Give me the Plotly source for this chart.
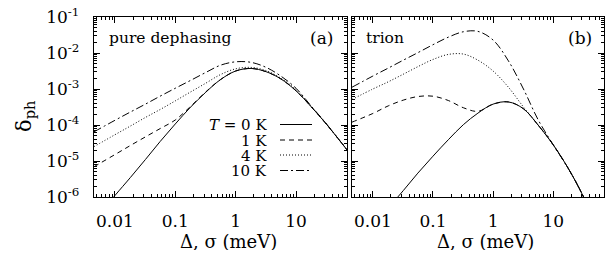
import plotly.graph_objects as go

# ---------------- data ----------------
delta_mev = [0.0045, 0.01, 0.018, 0.032, 0.056, 0.1, 0.18, 0.32, 0.56, 1, 1.8, 3.2, 5.6, 10, 18, 32, 70]

# (a) pure dephasing
pd_T0 = [2.19e-7, 1.10e-6, 3.47e-6, 1.10e-5, 3.47e-5, 1.07e-4, 3.16e-4, 8.13e-4, 1.82e-3, 3.16e-3,
         3.72e-3, 3.02e-3, 1.91e-3, 8.91e-4, 3.16e-4, 1.05e-4, 2.04e-5]
pd_T1 = [6.92e-6, 1.51e-5, 2.69e-5, 4.68e-5, 7.94e-5, 1.38e-4, 3.31e-4, 8.32e-4, 1.82e-3, 3.16e-3,
         3.72e-3, 3.02e-3, 1.91e-3, 8.91e-4, 3.16e-4, 1.05e-4, 2.04e-5]
pd_T4 = [2.51e-5, 5.37e-5, 9.33e-5, 1.62e-4, 2.69e-4, 4.68e-4, 8.32e-4, 1.45e-3, 2.51e-3, 3.63e-3,
         3.98e-3, 3.24e-3, 2.00e-3, 9.55e-4, 3.20e-4, 1.05e-4, 2.04e-5]
pd_T10 = [6.46e-5, 1.35e-4, 2.29e-4, 3.80e-4, 6.31e-4, 1.05e-3, 1.74e-3, 2.88e-3, 4.57e-3, 5.69e-3,
          5.50e-3, 3.98e-3, 2.29e-3, 1.05e-3, 3.31e-4, 1.07e-4, 2.04e-5]

# (b) trion
tr_T0 = [2.8e-8, 1.60e-7, 4.90e-7, 1.50e-6, 4.60e-6, 1.36e-5, 3.90e-5, 1.02e-4, 2.14e-4, 3.80e-4,
         4.37e-4, 2.82e-4, 1.00e-4, 2.82e-5, 6.03e-6, 1.00e-6, 5.01e-8]
tr_T1 = [1.20e-4, 2.09e-4, 3.39e-4, 4.90e-4, 6.17e-4, 6.31e-4, 4.79e-4, 3.02e-4, 2.40e-4, 3.80e-4,
         4.37e-4, 2.82e-4, 1.00e-4, 2.82e-5, 6.03e-6, 1.00e-6, 5.01e-8]
tr_T4 = [5.13e-4, 1.00e-3, 1.58e-3, 2.57e-3, 4.17e-3, 6.61e-3, 9.12e-3, 9.33e-3, 6.31e-3, 3.16e-3,
         1.12e-3, 3.16e-4, 1.00e-4, 2.82e-5, 6.03e-6, 1.00e-6, 5.01e-8]
tr_T10 = [1.12e-3, 2.29e-3, 3.80e-3, 6.31e-3, 1.02e-2, 1.70e-2, 2.75e-2, 3.89e-2, 3.98e-2, 2.29e-2,
          6.03e-3, 1.00e-3, 1.41e-4, 2.82e-5, 6.03e-6, 1.00e-6, 5.01e-8]

series_labels = ["<i>T</i> = 0 K", "1 K", "4 K", "10 K"]
x_tick_vals = [0.01, 0.1, 1, 10]
x_tick_text = ["0.01", "0.1", "1", "10"]
y_tick_vals = [1e-6, 1e-5, 1e-4, 1e-3, 1e-2, 1e-1]
y_tick_text = ["10<sup>-6</sup>", "10<sup>-5</sup>", "10<sup>-4</sup>", "10<sup>-3</sup>",
               "10<sup>-2</sup>", "10<sup>-1</sup>"]
panel_names = ["pure dephasing", "trion"]
panel_tags = ["(a)", "(b)"]

# ---------------- styling ----------------
W, H = 606, 253
FONT = "DejaVu Serif"
dashes = ["solid", "5px,4px", "1px,2px", "8px,3px,2px,3px"]


def px(x):
    return x / W


def py(y):
    return 1 - y / H


minor_x = [m * 10.0 ** e for e in range(-3, 2) for m in range(2, 10)]
minor_y = [m * 10.0 ** e for e in range(-7, -1) for m in range(2, 10)]

fig = go.Figure()
panels = [("x", "y", [pd_T0, pd_T1, pd_T4, pd_T10]),
          ("x2", "y2", [tr_T0, tr_T1, tr_T4, tr_T10])]
for xa, ya, curves in panels:
    for vals, dash in zip(curves, dashes):
        fig.add_trace(go.Scatter(
            x=delta_mev, y=vals, mode="lines", xaxis=xa, yaxis=ya,
            line=dict(color="black", width=1, dash=dash, shape="spline"),
            showlegend=False, hoverinfo="skip"))

common_x = dict(type="log", range=[-2.347, 1.845], tickmode="array", automargin=False,
                tickvals=x_tick_vals, ticktext=x_tick_text, ticks="inside", ticklen=6,
                tickcolor="black", showline=True, linecolor="black", linewidth=1.3,
                mirror="allticks", showgrid=False, zeroline=False,
                tickfont=dict(family=FONT, size=17, color="black"),
                ticklabelstandoff=8,
                minor=dict(tickmode="array", tickvals=minor_x, ticks="inside", ticklen=3,
                           tickcolor="black", showgrid=False))
common_y = dict(type="log", range=[-6, -1], tickmode="array", automargin=False,
                tickvals=y_tick_vals, ticktext=y_tick_text, ticks="inside", ticklen=6,
                tickcolor="black", showline=True, linecolor="black", linewidth=1.3,
                mirror="allticks", showgrid=False, zeroline=False,
                tickfont=dict(family=FONT, size=17, color="black"),
                ticklabelstandoff=10,
                minor=dict(tickmode="array", tickvals=minor_y, ticks="inside", ticklen=3,
                           tickcolor="black", showgrid=False),
                domain=[py(197), py(17)])

fig.update_layout(
    template="none",
    width=W, height=H, autosize=False,
    margin=dict(l=0, r=0, t=0, b=0, pad=0),
    paper_bgcolor="white", plot_bgcolor="white",
    font=dict(family=FONT, color="black", size=17),
    xaxis=dict(common_x, domain=[px(94), px(347)], anchor="y"),
    xaxis2=dict(common_x, domain=[px(352), px(604)], anchor="y2"),
    yaxis=dict(common_y, anchor="x"),
    yaxis2=dict(common_y, anchor="x2", showticklabels=False),
)


def note(x, y, text, size=17, xanchor="center", angle=0, height=None):
    fig.add_annotation(x=px(x), y=py(y), xref="paper", yref="paper", text=text,
                       showarrow=False, xanchor=xanchor, yanchor="middle", textangle=angle,
                       height=height, borderpad=0,
                       font=dict(family=FONT, size=size, color="black"))


# axis titles
note(228, 241, "Δ, σ (meV)", size=18, height=17)
note(485, 241, "Δ, σ (meV)", size=18, height=17)
note(25, 116, "δ<sub>ph</sub>", size=21, angle=-90)
# panel labels
note(108, 38, panel_names[0], size=15.5, xanchor="left")
note(334, 38, panel_tags[0], size=17, xanchor="right")
note(365, 38, panel_names[1], size=15.5, xanchor="left")
note(593, 38, panel_tags[1], size=17, xanchor="right")

# legend (gnuplot style: text right-aligned, sample to the right)
row_y = [124.5, 140, 155, 170.5]
for lab, dash, ry in zip(series_labels, dashes, row_y):
    note(268, ry, lab, size=15, xanchor="right", height=13)
    fig.add_shape(type="line", xref="paper", yref="paper", x0=px(280), x1=px(312),
                  y0=py(ry), y1=py(ry), line=dict(color="black", width=1, dash=dash))

fig.write_html("out.html", config={"displayModeBar": False},
               post_script="document.body.style.margin='0px';")
